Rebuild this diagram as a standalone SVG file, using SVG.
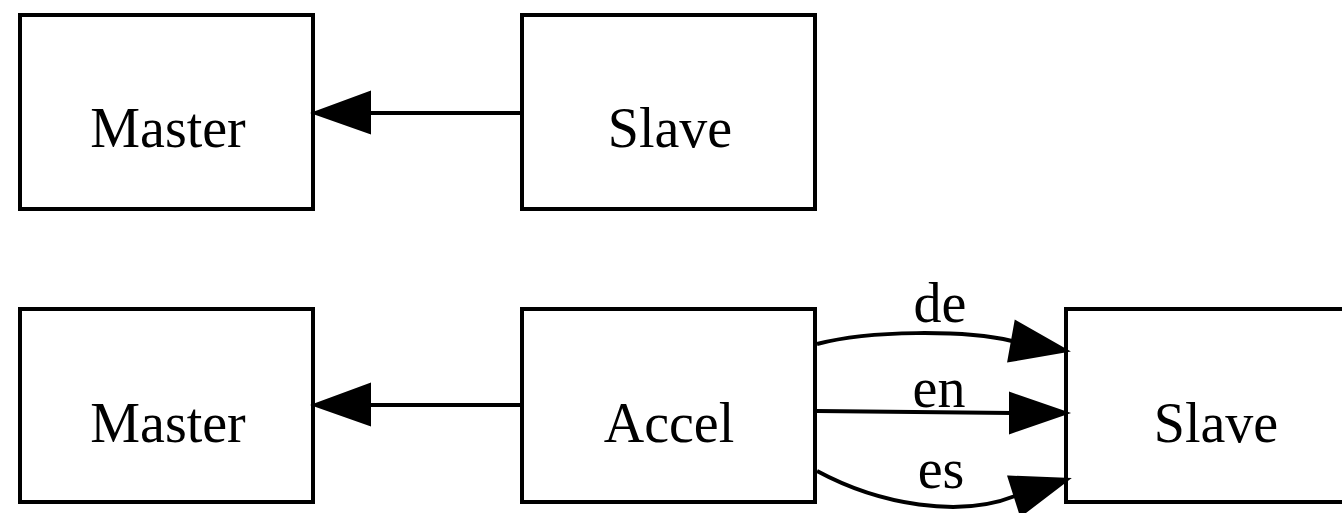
<svg xmlns="http://www.w3.org/2000/svg" width="1342" height="513" viewBox="0 0 1342 513">
<style>
.box{fill:#fff;stroke:#000;stroke-width:4}
.lbl{font-family:"Liberation Serif","Times New Roman",serif;font-size:56px;fill:#000;text-anchor:middle}
.edge{fill:none;stroke:#000;stroke-width:4}
.head{fill:#000;stroke:#000;stroke-width:2;stroke-linejoin:miter}
</style>
<rect width="1342" height="513" fill="#fff"/>
<g id="master1"><rect class="box" x="20" y="15" width="293" height="194"/><text class="lbl" x="168" y="147">Master</text></g>
<g id="slave1"><rect class="box" x="522" y="15" width="293" height="194"/><text class="lbl" x="670" y="147">Slave</text></g>
<g id="master2"><rect class="box" x="20" y="309" width="293" height="193"/><text class="lbl" x="168" y="442">Master</text></g>
<g id="accel"><rect class="box" x="522" y="309" width="293" height="193"/><text class="lbl" x="669" y="442">Accel</text></g>
<g id="slave2"><rect class="box" x="1066" y="309" width="300" height="193"/><text class="lbl" x="1216" y="442">Slave</text></g>
<g id="connectors">
<path class="edge" d="M522,113 L368,113"/>
<polygon class="head" points="370,92 313,113 370,133"/>
<path class="edge" d="M522,405 L368,405"/>
<polygon class="head" points="370,384 313,405 370,425"/>
<path class="edge" d="M817,344 C870,330 965,330 1012,341"/>
<polygon class="head" points="1015.5,321 1068,351 1008.3,361.3"/>
<text class="lbl" x="940" y="322">de</text>
<path class="edge" d="M817,411 L1012,413"/>
<polygon class="head" points="1010,393 1068,413 1010,433"/>
<text class="lbl" x="939" y="407">en</text>
<path class="edge" d="M817,471 C880,505 960,518 1015,496"/>
<polygon class="head" points="1008.4,476.5 1069,479 1020.8,515.7"/>
<text class="lbl" x="941" y="488">es</text>
</g>
</svg>
